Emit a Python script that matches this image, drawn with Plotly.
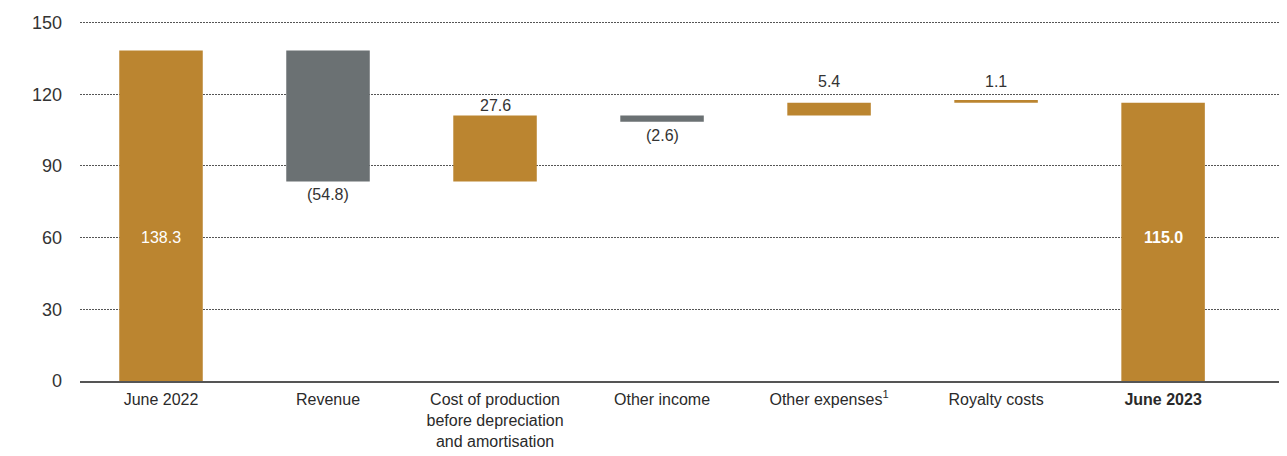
import plotly.graph_objects as go

categories = ["June 2022", "Revenue", "Cost of production<br>before depreciation<br>and amortisation",
              "Other income", "Other expenses<sup>1</sup>", "Royalty costs", "<b>June 2023</b>"]
labels = ["138.3", "(54.8)", "27.6", "(2.6)", "5.4", "1.1", "<b>115.0</b>"]
bar_bottom = [0, 83.5, 83.5, 108.5, 111.1, 116.5, 0]
bar_top = [138.3, 138.3, 111.1, 111.1, 116.5, 117.6, 116.5]
bar_kind = ["total", "down", "up", "down", "up", "up", "total"]
label_pos = ["inside", "below", "above", "below", "above", "above", "inside"]
y_ticks = [0, 30, 60, 90, 120, 150]

GOLD = "#BB8530"
GREY = "#6B7173"
FONT = "Liberation Sans, Arial, sans-serif"

colors = [GREY if k == "down" else GOLD for k in bar_kind]
heights = [t - b for t, b in zip(bar_top, bar_bottom)]

fig = go.Figure()
fig.add_trace(go.Bar(
    x=list(range(len(categories))), y=heights, base=bar_bottom,
    marker=dict(color=colors, line=dict(width=0)),
    width=0.5, hoverinfo="skip", showlegend=False,
))

for i, (lab, pos) in enumerate(zip(labels, label_pos)):
    if pos == "inside":
        fig.add_annotation(x=i, y=60, text=lab, showarrow=False,
                           font=dict(family=FONT, size=16, color="white"), yanchor="middle")
    elif pos == "above":
        # keep the label clear of the gridline just above the bar
        y_lab = bar_top[i]
        above = [t for t in y_ticks if t >= y_lab]
        shift = 0
        if above and above[0] - y_lab < 6:
            y_lab = above[0]
            shift = 2
        fig.add_annotation(x=i, y=y_lab, text=lab, showarrow=False,
                           font=dict(family=FONT, size=16, color="#333333"), yanchor="bottom", yshift=shift)
    else:
        fig.add_annotation(x=i, y=bar_bottom[i], text=lab, showarrow=False,
                           font=dict(family=FONT, size=16, color="#333333"), yanchor="top", yshift=-3)

fig.update_layout(
    width=1287, height=456,
    margin=dict(l=72, r=15, t=11, b=83),
    paper_bgcolor="white", plot_bgcolor="white",
    font=dict(family=FONT, size=16, color="#333333"),
    xaxis=dict(
        tickmode="array", tickvals=list(range(len(categories))), ticktext=categories,
        range=[-0.485, 6.7], showgrid=False, zeroline=False, automargin=False,
        showline=True, linecolor="#555555", linewidth=1.5,
        ticks="", tickfont=dict(family=FONT, size=16, color="#2a2a2a"),
        ticklabelstandoff=3,
    ),
    yaxis=dict(
        range=[0, 151.5], tickvals=y_ticks, showgrid=True, automargin=False,
        gridcolor="#555555", griddash="2px,1px", gridwidth=1,
        zeroline=False, showline=False, ticks="",
        tickfont=dict(family=FONT, size=18, color="#333333"),
        ticklabelstandoff=17,
    ),
)

fig.write_html("out.html")
